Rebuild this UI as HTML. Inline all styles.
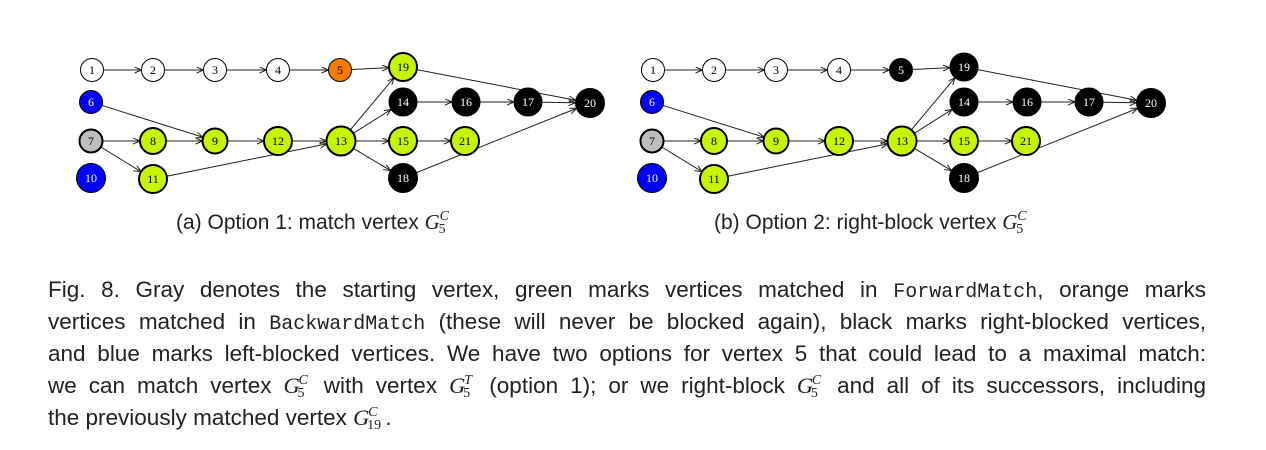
<!DOCTYPE html>
<html><head><meta charset="utf-8"><style>
body{margin:0;background:#fff;width:1266px;height:450px;overflow:hidden;position:relative;font-family:"Liberation Sans",sans-serif}
svg{position:absolute;left:0;top:0}
.cap{position:absolute;left:48px;width:1158px;font-size:22.5px;color:#222;text-align:justify;text-align-last:justify;white-space:nowrap;line-height:32px}
.cap.last{text-align-last:left}
.mono{font-family:"Liberation Mono",monospace;font-size:20px}
.g{font-family:"Liberation Serif",serif;font-style:italic;display:inline-block;position:relative;padding-right:12px;line-height:22px}
.g .u{position:absolute;left:15px;top:-1px;font-size:14px;line-height:14px}
.g .d{position:absolute;left:14px;top:12px;font-size:14px;line-height:14px;font-style:normal}
.sub{position:absolute;font-size:21px;color:#222;white-space:nowrap}
</style></head><body>
<svg id="fig" width="1266" height="260">
<defs><marker id="ar" markerWidth="8" markerHeight="8" refX="7" refY="3" orient="auto" markerUnits="userSpaceOnUse"><path d="M0,0 L7,3 L0,6" fill="none" stroke="#222" stroke-width="1"/></marker></defs>
<g id="edges"></g><g id="nodes"></g>
</svg>
<div class="sub" style="left:176px;top:211px">(a) Option 1: match vertex <span class="g">G<span class="u">C</span><span class="d">5</span></span></div>
<div class="sub" style="left:714px;top:211px">(b) Option 2: right-block vertex <span class="g">G<span class="u">C</span><span class="d">5</span></span></div>
<div>
<div class="cap" style="top:274px">Fig. 8. Gray denotes the starting vertex, green marks vertices matched in <span class="mono">ForwardMatch</span>, orange marks</div>
<div class="cap" style="top:306px">vertices matched in <span class="mono">BackwardMatch</span> (these will never be blocked again), black marks right-blocked vertices,</div>
<div class="cap" style="top:338px">and blue marks left-blocked vertices. We have two options for vertex 5 that could lead to a maximal match:</div>
<div class="cap" style="top:370px">we can match vertex <span class="g">G<span class="u">C</span><span class="d">5</span></span> with vertex <span class="g">G<span class="u">T</span><span class="d">5</span></span> (option 1); or we right-block <span class="g">G<span class="u">C</span><span class="d">5</span></span> and all of its successors, including</div>
<div class="cap last" style="top:402px">the previously matched vertex <span class="g" style="padding-right:16px">G<span class="u">C</span><span class="d">19</span></span>.</div>
</div>
<script>
const nodeIds=[1,2,3,4,5,19,6,14,16,17,20,7,8,9,12,13,15,21,10,11,18];
const nodeX=[92,153,215,278,340,403,91,403,466,528,590,91,153,215,278,341,403,465,91,153,403];
const nodeY=[70,70,70,70,70,67,102,102,102,102,103,141,141,141,141,141,141,141,178,179,178];
const nodeR=[11.5,11.5,11.5,11.5,11.5,14,11.5,14,14,14,14.5,11.5,13,12.5,14,14.5,14,14,14.5,14,14.5];
const colorsA=["w","w","w","w","o","g","b","k","k","k","k","s","g","g","g","g","g","g","b","g","k"];
const colorsB=["w","w","w","w","k","k","b","k","k","k","k","s","g","g","g","g","g","g","b","g","k"];
const edgeFrom=[1,2,3,4,5,19,6,7,8,9,12,7,11,13,13,13,13,14,16,17,15,18];
const edgeTo=[2,3,4,5,19,20,9,8,9,12,13,11,13,19,14,15,18,16,17,20,21,20];
const offsets=[0,561];
const fills={w:"#fff",o:"#f57c00",g:"#c6f500",b:"#0000ff",k:"#000",s:"#bdbdbd"};
const NS="http://www.w3.org/2000/svg";
const E=document.getElementById('edges'),N=document.getElementById('nodes');
offsets.forEach((off,p)=>{
  const cols=p?colorsB:colorsA;
  edgeFrom.forEach((f,i)=>{
    const a=nodeIds.indexOf(f),b=nodeIds.indexOf(edgeTo[i]);
    const x1=nodeX[a]+off,y1=nodeY[a],x2=nodeX[b]+off,y2=nodeY[b];
    const d=Math.hypot(x2-x1,y2-y1),ux=(x2-x1)/d,uy=(y2-y1)/d;
    const l=document.createElementNS(NS,'line');
    
    
    l.setAttribute('x1',x1+ux*nodeR[a]);l.setAttribute('y1',y1+uy*nodeR[a]);
    l.setAttribute('x2',x2-ux*nodeR[b]);l.setAttribute('y2',y2-uy*nodeR[b]);
    l.setAttribute('stroke','#222');l.setAttribute('stroke-width','1');l.setAttribute('marker-end','url(#ar)');
    E.appendChild(l);
  });
  nodeIds.forEach((id,i)=>{
    const c=cols[i];
    const g=document.createElementNS(NS,'g');
    
    
    const ci=document.createElementNS(NS,'circle');
    ci.setAttribute('cx',nodeX[i]+off);ci.setAttribute('cy',nodeY[i]);ci.setAttribute('r',nodeR[i]);
    ci.setAttribute('fill',fills[c]);ci.setAttribute('stroke','#000');
    ci.setAttribute('stroke-width',c==='g'||c==='s'?2:1);
    const t=document.createElementNS(NS,'text');
    t.setAttribute('x',nodeX[i]+off);t.setAttribute('y',nodeY[i]+4);
    t.setAttribute('text-anchor','middle');t.setAttribute('font-size','12');
    t.setAttribute('font-family','Liberation Serif, serif');
    t.setAttribute('fill',(c==='k'||c==='b')?'#fff':'#000');
    t.textContent=id;
    g.appendChild(ci);g.appendChild(t);N.appendChild(g);
  });
});
</script>
</body></html>
